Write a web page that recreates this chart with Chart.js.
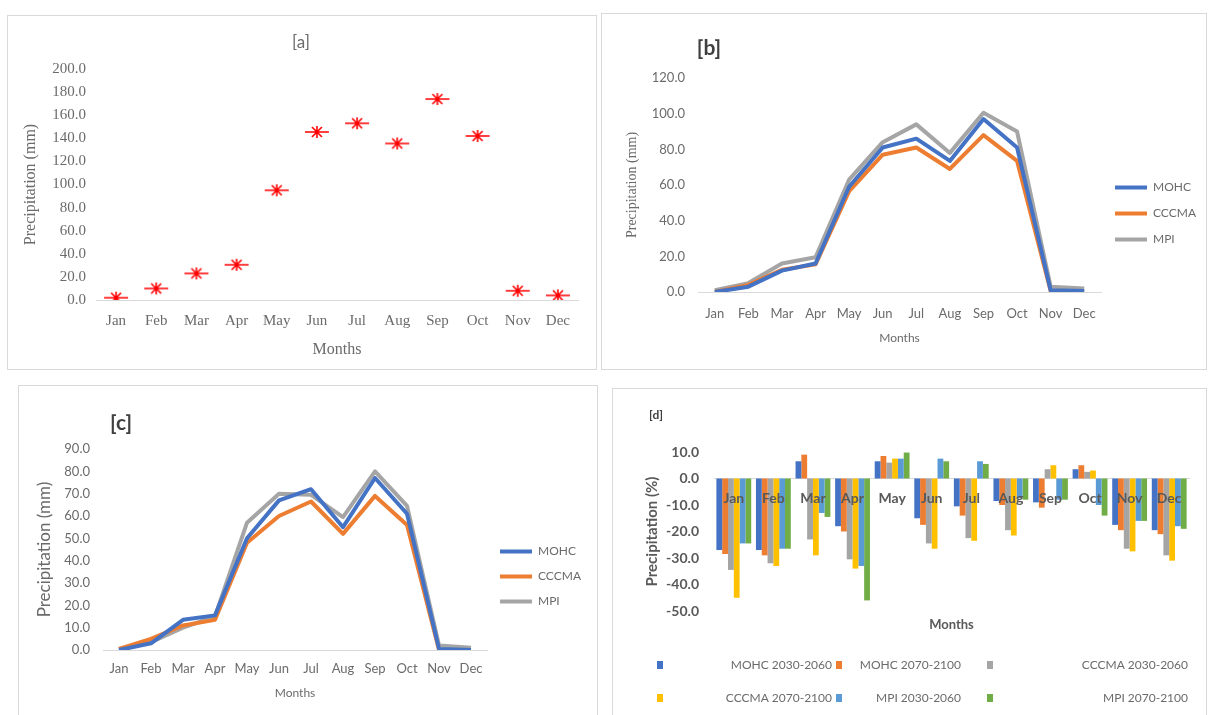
<!DOCTYPE html>
<html>
<head>
<meta charset="utf-8">
<script src="https://cdn.jsdelivr.net/npm/chart.js@4/dist/chart.umd.min.js"></script>
<style>
  body { margin: 0; background: #fff; width: 1210px; height: 715px; overflow: hidden; position: relative; }
  .panel { position: absolute; border: 1px solid #d9d9d9; background: #fff; }
  .panel canvas { position: absolute; left: 0; top: 0; }
  .lbl { position: absolute; font-family: Lato, sans-serif; white-space: nowrap; transform: translate(-50%, -50%); }
</style>
</head>
<body>
<div class="panel" style="left:7px;top:15px;width:588px;height:353px">
  <canvas id="chartA" width="588" height="353"></canvas>
  <div class="lbl" style="left:293px;top:25px;font-size:17px;color:#6b6b6b">[a]</div>
</div>
<div class="panel" style="left:601px;top:13px;width:604px;height:355px">
  <canvas id="chartB" width="604" height="355"></canvas>
  <div class="lbl" style="left:107px;top:32px;font-size:21px;font-weight:bold;color:#404040">[b]</div>
</div>
<div class="panel" style="left:18px;top:385px;width:578px;height:340px">
  <canvas id="chartC" width="578" height="340"></canvas>
  <div class="lbl" style="left:102px;top:35px;font-size:21px;font-weight:bold;color:#404040">[c]</div>
</div>
<div class="panel" style="left:612px;top:388px;width:593px;height:330px">
  <canvas id="chartD" width="593" height="330"></canvas>
  <div class="lbl" style="left:43px;top:25px;font-size:12px;font-weight:bold;color:#404040">[d]</div>
</div>

<script>
// months shared by all four panels
const months = ["Jan", "Feb", "Mar", "Apr", "May", "Jun", "Jul", "Aug", "Sep", "Oct", "Nov", "Dec"];

// [a] observed monthly precipitation (mm)
const observed = [2, 10, 23, 30.5, 95, 145.5, 153, 135.5, 174, 142, 8, 4];

// [b] projected precipitation (mm)
const mohcB = [0, 3, 12, 16, 59, 81, 86, 73.5, 97, 81, 1, 0.5];
const cccmaB = [0, 4, 12.5, 15.5, 56.5, 77, 81, 69, 88, 73.5, 0.5, 0];
const mpiB = [1, 5, 16, 19.5, 63, 84, 94, 78, 100.5, 90, 3, 2];

// [c] projected precipitation (mm)
const mohcC = [0, 3, 13.5, 15.5, 50, 67, 72, 55, 77, 61, 0.5, 0];
const cccmaC = [0.5, 5, 11, 13.5, 48, 60, 66.5, 52, 69, 56, 0, 0];
const mpiC = [0.5, 3.5, 10, 15, 57, 70, 69.5, 59.5, 80, 64.5, 2, 1];

// [d] change in precipitation (%)
const seriesD = ["MOHC 2030-2060", "MOHC 2070-2100", "CCCMA 2030-2060", "CCCMA 2070-2100", "MPI 2030-2060", "MPI 2070-2100"];
const mohc2030 = [-27, -27, 6.5, -18, 6.5, -15, -10.5, -8.5, -9, 3.5, -17.5, -19.5];
const mohc2070 = [-28.5, -29, 9, -20, 8.5, -17.5, -14, -10, -11, 5, -19.5, -21];
const cccma2030 = [-34.5, -32, -23, -30.5, 6, -24.5, -22.5, -19.5, 3.5, 2.5, -26.5, -29];
const cccma2070 = [-45, -33, -29, -34, 7.5, -26.5, -23.5, -21.5, 5, 3, -27.5, -31];
const mpi2030 = [-24.5, -26.5, -13, -33, 7.5, 7.5, 6.5, -7.5, -8, -10, -16, -18];
const mpi2070 = [-24.5, -26.5, -14.5, -46, 9.8, 6.5, 5.5, -8, -8, -14, -16, -19];

const BLUE = "#4472c4", ORANGE = "#ed7d31", GREY = "#a5a5a5";
const YELLOW = "#ffc000", LBLUE = "#5b9bd5", GREEN = "#70ad47";
const TXT = "#6b6b6b";
const SERIF = "'Liberation Serif', 'Times New Roman', serif";
const SANS = "Lato, 'Liberation Sans', sans-serif";

// excel style star marker (asterisk with a long horizontal stroke)
function starMarker() {
  const c = document.createElement("canvas");
  c.width = 26; c.height = 14;
  const g = c.getContext("2d");
  g.strokeStyle = "#ff0000";
  g.lineWidth = 1.6;
  g.beginPath();
  g.moveTo(1, 7); g.lineTo(25, 7);
  g.moveTo(8, 2); g.lineTo(18, 12);
  g.moveTo(18, 2); g.lineTo(8, 12);
  g.moveTo(13, 1); g.lineTo(13, 13);
  g.stroke();
  return c;
}

Chart.defaults.animation = false;
Chart.defaults.plugins.tooltip.enabled = false;

// ---- [a] ----
new Chart(document.getElementById("chartA"), {
  type: "line",
  data: {
    labels: months,
    datasets: [{
      label: "Observed",
      data: observed,
      showLine: false,
      pointStyle: starMarker(),
      pointRadius: 7,
      borderColor: "#ff0000",
      backgroundColor: "#ff0000"
    }]
  },
  options: {
    responsive: false,
    layout: { padding: { left: 9, right: 18, top: 53, bottom: 6 } },
    plugins: { legend: { display: false } },
    scales: {
      x: {
        offset: true,
        grid: { display: false, drawTicks: false },
        border: { color: "#d9d9d9" },
        ticks: { padding: 12, color: TXT, font: { family: SERIF, size: 15 } },
        title: { display: true, text: "Months", color: TXT, font: { family: SERIF, size: 16 } },
        afterFit: (s) => { s.height = 63; }
      },
      y: {
        min: 0, max: 200,
        grid: { display: false, drawTicks: false },
        border: { display: false },
        ticks: { stepSize: 20, padding: 10, color: TXT, font: { family: SERIF, size: 15 }, callback: (v) => v.toFixed(1) },
        title: { display: true, text: "Precipitation (mm)", color: TXT, font: { family: SERIF, size: 16 } },
        afterFit: (s) => { s.width = 79; }
      }
    }
  }
});

// ---- [b] and [c] share one line chart builder ----
function lineChart(id, mohc, cccma, mpi, opts) {
  return new Chart(document.getElementById(id), {
    type: "line",
    data: {
      labels: months,
      datasets: [
        { label: "MOHC", data: mohc, borderColor: BLUE, backgroundColor: BLUE },
        { label: "CCCMA", data: cccma, borderColor: ORANGE, backgroundColor: ORANGE },
        { label: "MPI", data: mpi, borderColor: GREY, backgroundColor: GREY }
      ].map((d) => Object.assign(d, { borderWidth: 4, pointRadius: 0, tension: 0, borderJoinStyle: "round" }))
    },
    options: {
      responsive: false,
      layout: { padding: opts.padding },
      plugins: {
        legend: {
          position: "right",
          labels: {
            usePointStyle: true, pointStyle: "line", pointStyleWidth: 32,
            padding: opts.legendPad, color: TXT, font: { family: SANS, size: 12 }
          }
        }
      },
      scales: {
        x: {
          offset: true,
          grid: { display: false, drawTicks: false },
          border: { color: "#d9d9d9" },
          ticks: { padding: opts.xPad, color: TXT, font: { family: SANS, size: 13 } },
          title: { display: true, text: "Months", color: TXT, font: { family: SANS, size: 12 } },
          afterFit: (s) => { s.height = opts.xH; }
        },
        y: {
          min: 0, max: opts.max,
          grid: { display: false, drawTicks: false },
          border: { display: false },
          ticks: { stepSize: opts.step, padding: 13, color: TXT, font: { family: SANS, size: 13 }, callback: (v) => v.toFixed(1) },
          title: { display: true, text: "Precipitation (mm)", color: TXT, font: { family: opts.yFont, size: opts.ySize } },
          afterFit: (s) => { s.width = opts.yW; }
        }
      }
    }
  });
}

lineChart("chartB", mohcB, cccmaB, mpiB, {
  padding: { left: 18, right: 0, top: 64, bottom: 20 },
  legendPad: 14, xPad: 14, xH: 57, yW: 78, max: 120, step: 20, yFont: SERIF, ySize: 14
});

lineChart("chartC", mohcC, cccmaC, mpiC, {
  padding: { left: 11, right: 6, top: 63, bottom: 22 },
  legendPad: 13, xPad: 11, xH: 54, yW: 73, max: 90, step: 10, yFont: SANS, ySize: 17
});

// ---- [d] ----
// two legend rows of three, marker on the left of each cell, label pushed right
const legendD = {
  id: "legendD",
  afterDraw(chart) {
    const ctx = chart.ctx;
    const cols = [{ sq: 47, tx: 219 }, { sq: 226, tx: 348 }, { sq: 377, tx: 575 }];
    const rows = [276, 309];
    ctx.save();
    ctx.font = "12px " + SANS;
    ctx.textAlign = "right";
    ctx.textBaseline = "middle";
    chart.data.datasets.forEach((ds, i) => {
      const c = cols[i % 3], y = rows[Math.floor(i / 3)];
      ctx.fillStyle = ds.backgroundColor;
      ctx.fillRect(c.sq - 3, y - 4, 6, 8);
      ctx.fillStyle = TXT;
      ctx.fillText(ds.label, c.tx, y);
    });
    ctx.restore();
  }
};

const dValues = [mohc2030, mohc2070, cccma2030, cccma2070, mpi2030, mpi2070];
const dColors = [BLUE, ORANGE, GREY, YELLOW, LBLUE, GREEN];

new Chart(document.getElementById("chartD"), {
  type: "bar",
  data: {
    labels: months,
    datasets: seriesD.map((name, i) => ({
      label: name,
      data: dValues[i],
      backgroundColor: dColors[i],
      borderWidth: 0,
      barPercentage: 1.0,
      categoryPercentage: 0.88
    }))
  },
  options: {
    responsive: false,
    layout: { padding: { left: 26, right: 17, top: 63, bottom: 82 } },
    plugins: { legend: { display: false } },
    scales: {
      x: {
        position: { y: 0 },
        grid: { display: false, drawTicks: false },
        border: { color: "#d9d9d9" },
        ticks: { z: 1, padding: 12, color: "#595959", font: { family: SANS, size: 14, weight: "bold" } }
      },
      x2: {
        type: "category",
        labels: months,
        position: "bottom",
        grid: { display: false, drawTicks: false },
        border: { display: false },
        ticks: { display: false },
        title: { display: true, text: "Months", color: "#595959", font: { family: SANS, size: 13, weight: "bold" } },
        afterFit: (s) => { s.height = 26; }
      },
      y: {
        min: -50, max: 10,
        grid: { display: false, drawTicks: false },
        border: { display: false },
        ticks: { stepSize: 10, padding: 15, color: "#595959", font: { family: SANS, size: 14, weight: "bold" }, callback: (v) => v.toFixed(1) },
        title: { display: true, text: "Precipitation (%)", color: "#595959", font: { family: SANS, size: 15, weight: "bold" } },
        afterFit: (s) => { s.width = 75; }
      }
    }
  },
  plugins: [legendD]
});
</script>
</body>
</html>
